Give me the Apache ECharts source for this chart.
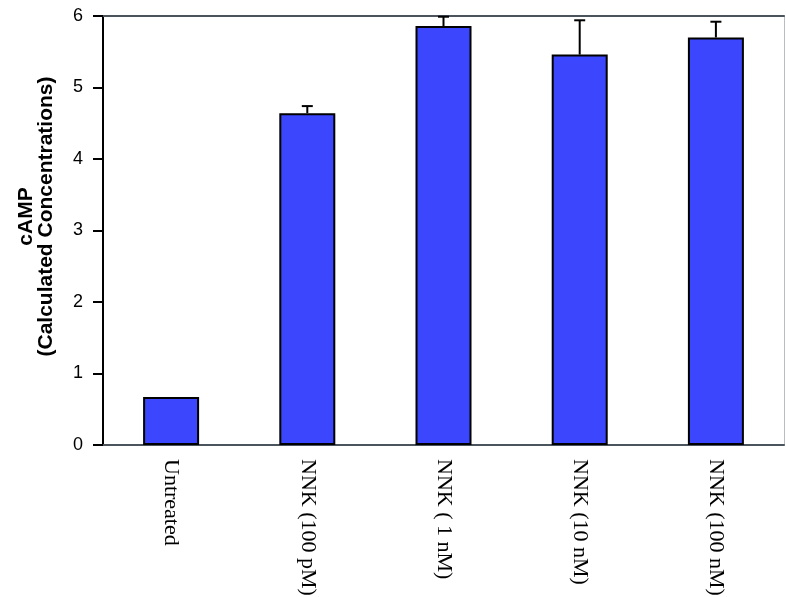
<!DOCTYPE html>
<html>
<head>
<meta charset="utf-8">
<script src="https://cdn.jsdelivr.net/npm/echarts@6/dist/echarts.min.js"></script>
<style>
  html, body { margin: 0; padding: 0; background: #fff; }
  #chart { width: 786px; height: 597px; }
</style>
</head>
<body>
<div id="chart"></div>
<script>
// data
const categories = ["Untreated", "NNK (100 pM)", "NNK ( 1 nM)", "NNK (10 nM)", "NNK (100 nM)"];
const camp = [0.67, 4.64, 5.86, 5.46, 5.70];
const campErr = [0, 0.10, 0.13, 0.48, 0.22];
const yTicks = [0, 1, 2, 3, 4, 5, 6];

let chart = echarts.init(document.getElementById("chart"));

// error bars (upper only), drawn through the axes
const errData = camp.map((v, i) => [i, v, campErr[i]]);
function renderErr(params, api) {
  const i = api.value(0);
  const v = api.value(1);
  const e = api.value(2);
  if (!e) return null;
  const base = api.coord([i, v]);
  const top = api.coord([i, v + e]);
  const half = 5.5;
  const style = { stroke: "#000", lineWidth: 2 };
  return {
    type: "group",
    children: [
      { type: "line", shape: { x1: base[0], y1: base[1], x2: top[0], y2: top[1] }, style: style },
      { type: "line", shape: { x1: top[0] - half, y1: top[1], x2: top[0] + half, y2: top[1] }, style: style },
    ],
  };
}

chart.setOption({
  animation: false,
  grid: { left: 103, right: 2, top: 16, bottom: 152, outerBoundsMode: "none" },
  xAxis: [
    {
      type: "category",
      data: categories,
      axisLine: { lineStyle: { color: "#4b535c", width: 2 } },
      axisTick: { show: false },
      axisLabel: {
        rotate: -90,
        margin: 14,
        color: "#000",
        fontFamily: "Liberation Serif",
        fontSize: 22,
      },
    },
    {
      // top frame line
      type: "category",
      position: "top",
      data: categories,
      axisLine: { show: true, onZero: false, lineStyle: { color: "#4b535c", width: 2 } },
      axisTick: { show: false },
      axisLabel: { show: false },
    },
  ],
  yAxis: [
    {
      type: "value",
      min: 0,
      max: 6,
      interval: 1,
      splitLine: { show: false },
      axisLine: { show: true, lineStyle: { color: "#000", width: 2 } },
      axisTick: { show: true, length: 10, lineStyle: { color: "#000", width: 2 } },
      axisLabel: {
        margin: 20,
        color: "#000",
        fontFamily: "Liberation Sans",
        fontSize: 18,
        formatter: (v) => (yTicks.includes(v) ? String(v) : ""),
      },
      name: "cAMP\n(Calculated Concentrations)",
      nameLocation: "middle",
      nameGap: 47,
      nameTextStyle: {
        color: "#000",
        fontFamily: "Liberation Sans",
        fontWeight: "bold",
        fontSize: 21,
        lineHeight: 20,
        padding: [0, 0, 0, 28],
      },
    },
    {
      // right frame line
      type: "value",
      position: "right",
      min: 0,
      max: 6,
      interval: 1,
      splitLine: { show: false },
      axisLine: { show: true, onZero: false, lineStyle: { color: "#b9bcc0", width: 1 } },
      axisTick: { show: false },
      axisLabel: { show: false },
    },
  ],
  series: [
    {
      type: "bar",
      data: camp,
      barWidth: 56,
      itemStyle: { color: "#3c46fd", borderColor: "#000", borderWidth: 2 },
      z: 2,
    },
    {
      type: "custom",
      data: errData,
      renderItem: renderErr,
      encode: { x: 0, y: 1 },
      z: 3,
    },
  ],
});
</script>
</body>
</html>
